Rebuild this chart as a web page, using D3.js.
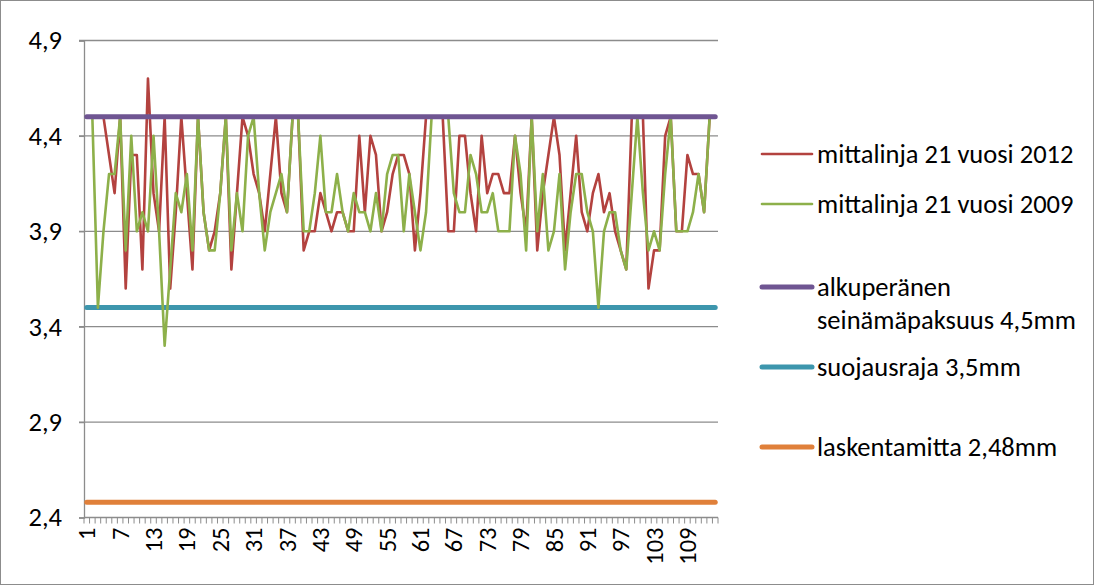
<!DOCTYPE html>
<html>
<head>
<meta charset="utf-8">
<script src="https://cdn.jsdelivr.net/npm/d3@7/dist/d3.min.js"></script>
<style>
  body { margin: 0; background: #fff; }
  svg { display: block; }
  text { font-family: Carlito, Lato, "Open Sans", sans-serif; fill: #000; }
</style>
</head>
<body>
<svg id="chart" width="1094" height="585"></svg>
<script>
// Measurement points along the line (1..114)
const categories = d3.range(1, 115);

// Wall thickness readings, mm
const line2012 = [
  4.5, 4.5, 4.5, 4.5, 4.3, 4.1, 4.5, 3.6, 4.3, 4.3,
  3.7, 4.7, 4.1, 3.9, 4.5, 3.6, 4.0, 4.5, 4.1, 3.7,
  4.5, 4.0, 3.8, 3.9, 4.1, 4.5, 3.7, 4.1, 4.5, 4.4,
  4.2, 4.1, 3.9, 4.2, 4.5, 4.1, 4.0, 4.5, 4.5, 3.8,
  3.9, 3.9, 4.1, 4.0, 3.9, 4.0, 4.0, 3.9, 3.9, 4.4,
  4.0, 4.4, 4.3, 3.9, 4.0, 4.2, 4.3, 4.3, 4.2, 3.8,
  4.1, 4.5, 4.5, 4.5, 4.5, 3.9, 3.9, 4.4, 4.4, 4.1,
  3.9, 4.4, 4.1, 4.2, 4.2, 4.1, 4.1, 4.4, 4.1, 3.9,
  4.5, 3.8, 4.1, 4.3, 4.5, 4.3, 3.8, 4.1, 4.4, 4.0,
  3.9, 4.1, 4.2, 4.0, 4.1, 3.9, 3.8, 3.7, 4.5, 4.5,
  4.5, 3.6, 3.8, 3.8, 4.4, 4.5, 3.9, 3.9, 4.3, 4.2,
  4.2, 4.0, 4.5, 4.5
];
const line2009 = [
  4.5, 4.5, 3.5, 3.9, 4.2, 4.2, 4.5, 3.8, 4.4, 3.9,
  4.0, 3.9, 4.4, 3.9, 3.3, 3.7, 4.1, 4.0, 4.2, 3.8,
  4.5, 4.0, 3.8, 3.8, 4.1, 4.5, 3.8, 4.1, 3.9, 4.4,
  4.5, 4.1, 3.8, 4.0, 4.1, 4.2, 4.0, 4.5, 4.5, 3.9,
  3.9, 4.1, 4.4, 4.0, 4.0, 4.2, 4.0, 3.9, 4.1, 4.0,
  4.0, 3.9, 4.1, 3.9, 4.2, 4.3, 4.3, 3.9, 4.2, 4.0,
  3.8, 4.0, 4.5, 4.5, 4.5, 4.5, 4.1, 4.0, 4.0, 4.3,
  4.2, 4.0, 4.0, 4.1, 3.9, 3.9, 3.9, 4.4, 4.2, 3.8,
  4.5, 3.9, 4.2, 3.8, 3.9, 4.2, 3.7, 4.0, 4.2, 4.2,
  4.0, 3.9, 3.5, 3.9, 4.0, 4.0, 3.8, 3.7, 4.1, 4.5,
  4.1, 3.8, 3.9, 3.8, 4.2, 4.5, 3.9, 3.9, 3.9, 4.0,
  4.2, 4.0, 4.5, 4.5
];

// Reference levels, mm
const originalThickness = 4.5;
const protectionLimit = 3.5;
const designThickness = 2.48;

const yTicks = [2.4, 2.9, 3.4, 3.9, 4.4, 4.9];
const xTickLabels = categories.filter((d, i) => i % 6 === 0);

const seriesNames = [
  "mittalinja 21 vuosi 2012",
  "mittalinja 21 vuosi 2009",
  "alkuperänen seinämäpaksuus 4,5mm",
  "suojausraja 3,5mm",
  "laskentamitta 2,48mm"
];

const colors = {
  l2012: "#b3423f",
  l2009: "#8db04a",
  orig: "#6f5592",
  prot: "#3d96ad",
  calc: "#e0803a",
  grid: "#8c8c8c"
};

const svg = d3.select("#chart");
const plot = { left: 84, right: 718, top: 40.5, bottom: 517.5 };

const x = d3.scaleBand().domain(categories).range([plot.left, plot.right]).padding(0);
const cx = d => x(d) + x.bandwidth() / 2;
const y = d3.scaleLinear().domain([2.4, 4.9]).range([plot.bottom, plot.top]);

// Chart frame
svg.append("rect")
  .attr("x", 0.5).attr("y", 0.5).attr("width", 1093).attr("height", 584)
  .attr("fill", "none").attr("stroke", "#8c8c8c").attr("stroke-width", 1);

// Horizontal gridlines
svg.append("g").selectAll("line").data(yTicks.slice(1)).join("line")
  .attr("x1", plot.left - 5).attr("x2", plot.right)
  .attr("y1", d => y(d)).attr("y2", d => y(d))
  .attr("stroke", colors.grid).attr("stroke-width", 1.3);

// Y axis
const yAxis = svg.append("g").attr("transform", `translate(${plot.left},0)`)
  .call(d3.axisLeft(y).tickValues(yTicks).tickSize(5).tickPadding(17)
    .tickFormat(d => d3.format(".1f")(d).replace(".", ",")));
yAxis.select(".domain").attr("stroke", colors.grid).attr("stroke-width", 1.3);
yAxis.selectAll(".tick line").attr("stroke", colors.grid).attr("stroke-width", 1.3);
yAxis.selectAll(".tick text").attr("font-size", 26.5).attr("font-family", "Carlito, Lato, sans-serif");

// X axis: baseline, a tick between every category, labels every sixth point
const xAxisG = svg.append("g");
xAxisG.append("line")
  .attr("x1", plot.left).attr("x2", plot.right)
  .attr("y1", plot.bottom).attr("y2", plot.bottom)
  .attr("stroke", colors.grid).attr("stroke-width", 1.3);
const boundaries = categories.map(d => x(d)).concat([plot.right]);
xAxisG.selectAll("line.tick").data(boundaries).join("line")
  .attr("class", "tick")
  .attr("x1", d => d).attr("x2", d => d)
  .attr("y1", plot.bottom).attr("y2", plot.bottom + 6)
  .attr("stroke", colors.grid).attr("stroke-width", 1);
xAxisG.selectAll("text").data(xTickLabels).join("text")
  .attr("transform", d => `translate(${cx(d)},${plot.bottom + 10}) rotate(-90)`)
  .attr("text-anchor", "end")
  .attr("dy", "0.35em")
  .attr("font-size", 24.5)
  .text(d => d);

// Reference levels
const refLine = (val, color) => {
  svg.append("path")
    .datum(categories)
    .attr("d", d3.line().x(cx).y(() => y(val)))
    .attr("fill", "none").attr("stroke", color)
    .attr("stroke-width", 5).attr("stroke-linecap", "round");
};
refLine(designThickness, colors.calc);
refLine(protectionLimit, colors.prot);

// Measurement lines
const line = d3.line().x((d, i) => cx(categories[i])).y(d => y(d)).curve(d3.curveLinear);
svg.append("path").datum(line2012).attr("d", line)
  .attr("fill", "none").attr("stroke", colors.l2012).attr("stroke-width", 2.6)
  .attr("stroke-linejoin", "round");
svg.append("path").datum(line2009).attr("d", line)
  .attr("fill", "none").attr("stroke", colors.l2009).attr("stroke-width", 2.6)
  .attr("stroke-linejoin", "round");

refLine(originalThickness, colors.orig);

// Legend
const legend = [
  { name: [seriesNames[0]], color: colors.l2012, w: 2.6, y: 154 },
  { name: [seriesNames[1]], color: colors.l2009, w: 2.6, y: 204 },
  { name: ["alkuperänen", "seinämäpaksuus 4,5mm"], color: colors.orig, w: 5, y: 287 },
  { name: [seriesNames[3]], color: colors.prot, w: 5, y: 367 },
  { name: [seriesNames[4]], color: colors.calc, w: 5, y: 447 }
];
const lg = svg.append("g").selectAll("g").data(legend).join("g");
lg.append("line")
  .attr("x1", 762).attr("x2", 812)
  .attr("y1", d => d.y).attr("y2", d => d.y)
  .attr("stroke", d => d.color).attr("stroke-width", d => d.w)
  .attr("stroke-linecap", "round");
lg.each(function(d) {
  const t = d3.select(this).append("text")
    .attr("x", 817).attr("y", d.y).attr("font-size", 26.5);
  d.name.forEach((s, i) => {
    t.append("tspan").attr("x", 817)
      .attr("dy", i === 0 ? "0.35em" : "1.22em").text(s);
  });
});
</script>
</body>
</html>
